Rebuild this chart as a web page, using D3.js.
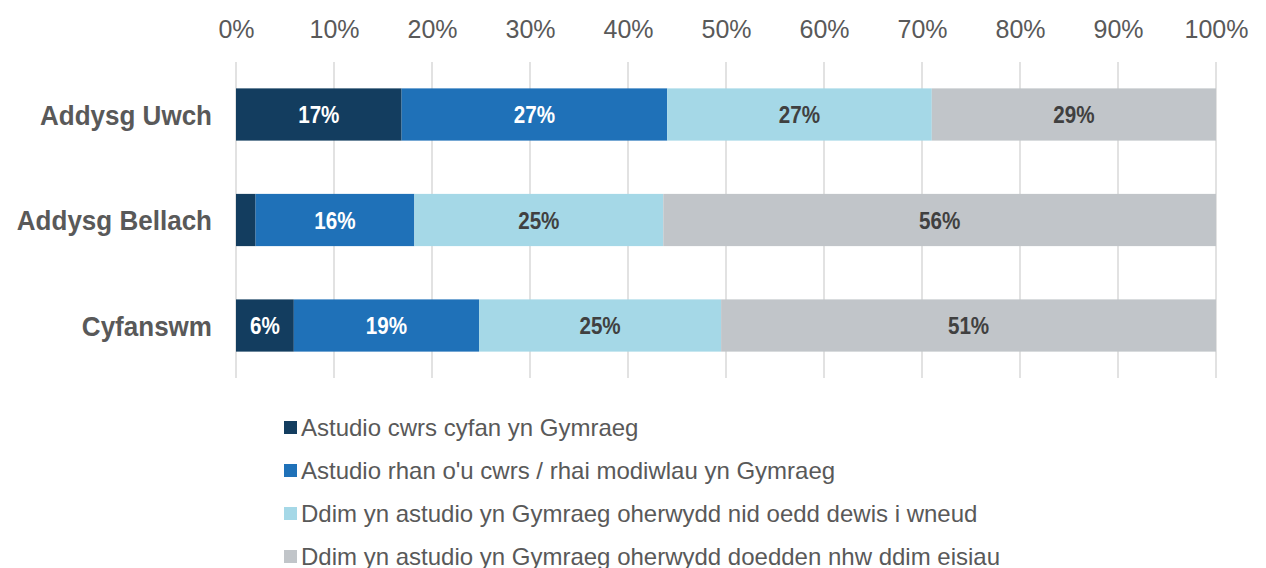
<!DOCTYPE html>
<html><head><meta charset="utf-8">
<script src="https://cdn.jsdelivr.net/npm/d3@7/dist/d3.min.js"></script>
<style>body{margin:0;background:#fff}svg{display:block}</style>
</head><body>
<svg id="c" width="1266" height="568"></svg>
<script>
const categories = ["Addysg Uwch", "Addysg Bellach", "Cyfanswm"];
const seriesNames = [
  "Astudio cwrs cyfan yn Gymraeg",
  "Astudio rhan o'u cwrs / rhai modiwlau yn Gymraeg",
  "Ddim yn astudio yn Gymraeg oherwydd nid oedd dewis i wneud",
  "Ddim yn astudio yn Gymraeg oherwydd doedden nhw ddim eisiau"
];
const cwrsCyfan = [16.9, 2.0, 5.9];
const rhanCwrs = [27.1, 16.2, 18.9];
const dimDewis = [27.0, 25.4, 24.7];
const dimEisiau = [29.0, 56.4, 50.5];
const tickValues = [0,10,20,30,40,50,60,70,80,90,100];
const colors = ["#133d5f", "#1f71b8", "#a5d8e7", "#c1c5c9"];
const labelColors = ["#ffffff", "#ffffff", "#404040", "#404040"];

const svg = d3.select("#c");
const x = d3.scaleLinear().domain([0,100]).range([236,1216]);
const y = d3.scaleBand().domain(categories).range([62,378]).paddingInner(0.505).paddingOuter(0.25);

const font = "'Liberation Sans', Arial, sans-serif";

// gridlines
svg.append("g").selectAll("line").data(tickValues).join("line")
  .attr("x1", d=>x(d)).attr("x2", d=>x(d)).attr("y1", 62).attr("y2", 378)
  .attr("stroke", "#d9d9d9").attr("stroke-width", 1.5);

// top axis
const axis = d3.axisTop(x).tickValues(tickValues).tickFormat(d=>d+"%").tickSize(0).tickPadding(0);
const ag = svg.append("g").attr("transform","translate(0,38)").call(axis);
ag.select(".domain").remove();
ag.selectAll("text").attr("font-family", font).attr("font-size", 25).attr("fill", "#595959").attr("dy", 0);

const series = [cwrsCyfan, rhanCwrs, dimDewis, dimEisiau];
const rows = categories.map((c,i)=>{
  const r = {cat:c}; series.forEach((s,j)=>r["s"+j]=s[i]); return r;
});
const stack = d3.stack().keys(series.map((s,j)=>"s"+j))(rows);

stack.forEach((layer, j) => {
  const g = svg.append("g");
  g.selectAll("rect").data(layer).join("rect")
    .attr("x", d=>x(d[0])).attr("width", d=>x(d[1])-x(d[0]))
    .attr("y", d=>y(d.data.cat)).attr("height", y.bandwidth())
    .attr("fill", colors[j]);
  g.selectAll("text").data(layer.filter(d=>d[1]-d[0]>=3)).join("text")
    .attr("transform", d=>`translate(${(x(d[0])+x(d[1]))/2},${y(d.data.cat)+y.bandwidth()/2}) scale(0.86,1)`)
    .attr("dy", "0.36em").attr("text-anchor","middle")
    .attr("font-family", font).attr("font-weight","bold").attr("font-size", 24)
    .attr("fill", labelColors[j])
    .text(d=>Math.round(d[1]-d[0])+"%");
});

// category labels
svg.append("g").selectAll("text").data(categories).join("text")
  .attr("transform", d=>`translate(212,${y(d)+y.bandwidth()/2}) scale(0.93,1)`)
  .attr("dy","0.36em")
  .attr("text-anchor","end").attr("font-family", font).attr("font-weight","bold")
  .attr("font-size", 28).attr("fill","#595959").text(d=>d);

// legend
const leg = svg.append("g").selectAll("g").data(seriesNames).join("g")
  .attr("transform", (d,i)=>`translate(284,${427.5 + i*43})`);
leg.append("rect").attr("x",0).attr("y",-6.5).attr("width",13).attr("height",13)
  .attr("fill",(d,i)=>colors[i]);
leg.append("text").attr("x",17).attr("y",0).attr("dy","0.36em")
  .attr("font-family", font).attr("font-size", 24).attr("fill","#595959").text(d=>d);
</script>
</body></html>
